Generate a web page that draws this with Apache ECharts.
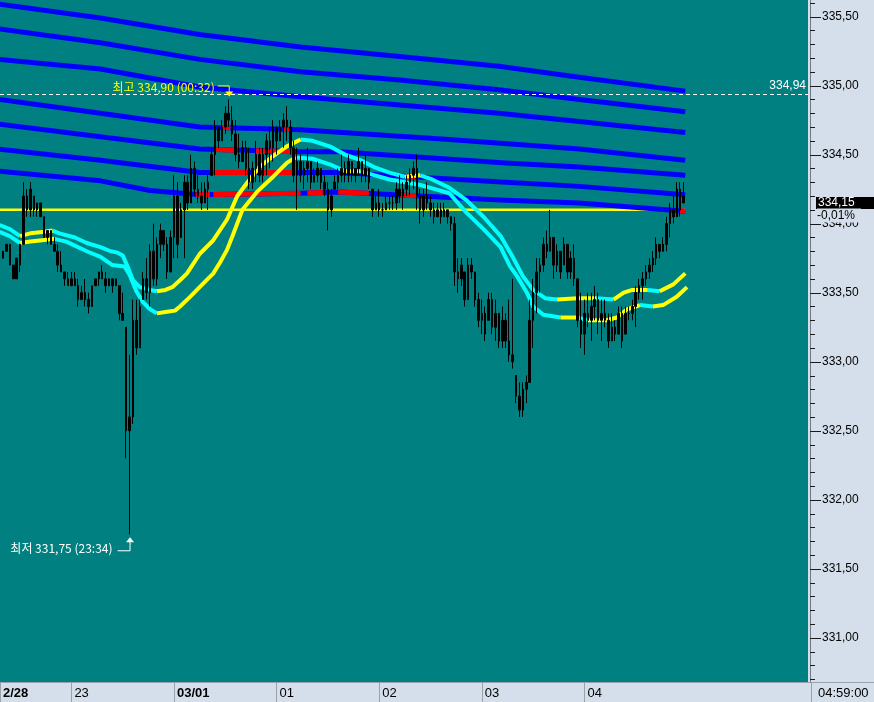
<!DOCTYPE html>
<html><head><meta charset="utf-8">
<script src="https://cdn.jsdelivr.net/npm/echarts@6/dist/echarts.min.js"></script>
<style>html,body{margin:0;padding:0;background:#d5dfeb;}#c{width:874px;height:702px;}</style>
</head><body><div id="c"></div>
<script>
// ---------- DATA (time = minutes from 03/01 00:00, price) ----------
const X_MIN = -101.75, X_MAX = 370.75;
const Y_MIN = 330.68, Y_MAX = 335.62;

const xTickValues = [-60, 0, 60, 120, 180, 240];
const xTickLabels = ['23', '03/01', '01', '02', '03', '04'];
const firstDateLabel = '2/28';
const yLabelValues = [331.0, 331.5, 332.0, 332.5, 333.0, 333.5, 334.0, 334.5, 335.0, 335.5];

// [time, open, close, low, high]
const bars = [
[-100,333.80,333.75,333.75,333.80],[-98,333.80,333.85,333.80,333.85],[-96,333.85,333.70,333.70,333.85],
[-94,333.70,333.60,333.60,333.70],[-92,333.60,333.75,333.60,333.75],[-90,333.70,333.85,333.65,333.85],
[-88,333.85,334.20,333.85,334.30],[-86,334.20,334.10,334.05,334.25],[-84,334.10,334.25,334.05,334.30],
[-82,334.20,334.10,334.05,334.20],[-80,334.10,334.15,334.05,334.15],[-78,334.15,334.05,334.05,334.15],
[-76,334.05,333.90,333.90,334.05],[-74,333.90,333.95,333.85,333.95],[-72,333.95,333.85,333.85,333.95],
[-70,333.85,333.80,333.80,333.90],[-68,333.80,333.70,333.65,333.85],[-66,333.70,333.65,333.65,333.80],
[-64,333.65,333.60,333.55,333.65],[-62,333.60,333.55,333.55,333.65],[-60,333.55,333.60,333.55,333.65],
[-58,333.60,333.55,333.55,333.65],[-56,333.55,333.45,333.40,333.60],[-54,333.45,333.50,333.45,333.55],
[-52,333.50,333.45,333.40,333.60],[-50,333.45,333.40,333.35,333.50],[-48,333.40,333.55,333.40,333.55],
[-46,333.55,333.60,333.55,333.60],[-44,333.60,333.65,333.55,333.65],[-42,333.65,333.60,333.60,333.70],
[-40,333.60,333.55,333.50,333.65],[-38,333.55,333.60,333.55,333.60],[-36,333.60,333.55,333.50,333.60],
[-34,333.55,333.60,333.55,333.60],[-32,333.55,333.35,333.30,333.55],[-30,333.35,333.30,333.30,333.50],
[-28,333.25,332.50,332.30,333.25],[-26,332.50,332.60,331.75,333.05],[-24,332.60,333.30,332.55,333.45],
[-22,333.30,333.10,333.05,333.45],[-20,333.10,333.40,333.10,333.45],[-18,333.45,333.60,333.45,333.65],
[-16,333.60,333.50,333.45,333.75],[-14,333.50,333.80,333.40,333.85],[-12,333.80,333.60,333.55,334.00],
[-10,333.60,333.85,333.55,333.90],[-8,333.85,333.95,333.75,334.00],[-6,333.95,333.85,333.80,333.95],
[-4,333.85,333.65,333.60,333.90],[-2,333.65,333.90,333.65,333.95],[0,333.90,334.20,333.75,334.35],
[2,334.20,333.85,333.75,334.30],[4,333.90,334.10,333.90,334.15],[6,334.10,334.30,333.75,334.35],
[8,334.30,334.15,334.10,334.35],[10,334.15,334.40,334.15,334.50],[12,334.40,334.25,334.20,334.45],
[14,334.25,334.20,334.15,334.35],[16,334.20,334.15,334.10,334.30],[18,334.15,334.25,334.15,334.30],
[20,334.25,334.30,334.10,334.35],[22,334.35,334.50,334.35,334.55],[24,334.50,334.70,334.35,334.75],
[26,334.70,334.60,334.55,334.70],[28,334.60,334.70,334.60,334.75],[30,334.70,334.80,334.65,334.85],
[32,334.80,334.75,334.70,334.90],[34,334.75,334.65,334.60,334.85],[36,334.65,334.50,334.45,334.75],
[38,334.50,334.45,334.40,334.65],[40,334.45,334.55,334.45,334.60],[42,334.55,334.40,334.35,334.60],
[44,334.40,334.30,334.25,334.55],[46,334.30,334.40,334.25,334.45],[48,334.40,334.50,334.30,334.60],
[50,334.50,334.35,334.30,334.55],[52,334.35,334.50,334.30,334.55],[54,334.50,334.60,334.35,334.65],
[56,334.60,334.55,334.40,334.70],[58,334.55,334.70,334.45,334.75],[60,334.70,334.60,334.50,334.70],
[62,334.60,334.70,334.60,334.75],[64,334.70,334.75,334.55,334.80],[66,334.75,334.70,334.60,334.85],
[68,334.70,334.55,334.50,334.75],[70,334.55,334.35,334.30,334.60],[72,334.35,334.45,334.10,334.55],
[74,334.45,334.35,334.30,334.50],[76,334.35,334.40,334.25,334.45],[78,334.40,334.45,334.30,334.55],
[80,334.45,334.30,334.25,334.45],[82,334.30,334.35,334.30,334.40],[84,334.35,334.40,334.30,334.45],
[86,334.40,334.30,334.25,334.40],[88,334.30,334.25,334.20,334.35],[90,334.25,334.10,333.95,334.30],
[92,334.10,334.20,334.05,334.25],[94,334.25,334.30,334.25,334.35],[96,334.30,334.35,334.25,334.40],
[98,334.35,334.40,334.30,334.50],[100,334.40,334.35,334.30,334.45],[102,334.35,334.45,334.30,334.50],
[104,334.45,334.35,334.30,334.45],[106,334.35,334.40,334.30,334.40],[108,334.40,334.45,334.35,334.55],
[110,334.45,334.35,334.30,334.45],[112,334.35,334.40,334.30,334.50],[114,334.40,334.30,334.25,334.40],
[116,334.25,334.10,334.05,334.25],[118,334.10,334.15,334.10,334.20],[120,334.15,334.10,334.05,334.25],
[122,334.10,334.10,334.05,334.15],[124,334.10,334.15,334.10,334.20],[126,334.15,334.15,334.10,334.20],
[128,334.15,334.15,334.10,334.20],[130,334.15,334.25,334.10,334.30],[132,334.25,334.20,334.15,334.35],
[134,334.20,334.25,334.10,334.30],[136,334.25,334.30,334.20,334.35],[138,334.30,334.35,334.20,334.40],
[140,334.35,334.40,334.25,334.45],[142,334.40,334.20,334.10,334.50],[144,334.20,334.10,334.00,334.25],
[146,334.10,334.20,334.05,334.25],[148,334.20,334.15,334.10,334.30],[150,334.15,334.10,334.05,334.20],
[152,334.10,334.05,334.00,334.15],[154,334.05,334.10,334.05,334.15],[156,334.10,334.05,334.00,334.15],
[158,334.05,334.10,334.05,334.15],[160,334.10,334.05,334.00,334.10],[162,334.05,334.00,333.95,334.05],
[164,334.00,333.65,333.55,334.05],[166,333.65,333.60,333.50,333.75],[168,333.60,333.70,333.55,333.75],
[170,333.65,333.45,333.40,333.65],[172,333.45,333.70,333.45,333.75],[174,333.70,333.65,333.60,333.75],
[176,333.65,333.45,333.40,333.65],[178,333.45,333.30,333.25,333.50],[180,333.30,333.35,333.20,333.45],
[182,333.35,333.20,333.15,333.40],[184,333.30,333.45,333.30,333.50],[186,333.45,333.25,333.20,333.50],
[188,333.25,333.35,333.15,333.45],[190,333.35,333.15,333.10,333.35],[192,333.15,333.30,333.10,333.40],
[194,333.30,333.15,333.10,333.35],[196,333.15,333.05,333.00,333.45],[198,333.05,333.00,332.95,333.60],
[200,332.90,332.75,332.70,332.90],[202,332.75,332.65,332.60,332.85],[204,332.65,332.80,332.60,332.85],
[206,332.80,332.85,332.70,332.90],[208,332.85,333.30,332.85,333.45],[210,333.30,333.50,333.10,333.60],
[212,333.50,333.65,333.35,333.75],[214,333.65,333.70,333.50,333.75],[216,333.70,333.85,333.65,333.90],
[218,333.85,333.80,333.75,333.95],[220,333.80,333.90,333.80,334.10],[222,333.90,333.70,333.60,333.90],
[224,333.70,333.80,333.65,333.85],[226,333.80,333.65,333.60,333.80],[228,333.70,333.85,333.70,333.90],
[230,333.85,333.65,333.60,333.85],[232,333.65,333.75,333.60,333.80],[234,333.75,333.60,333.55,333.85],
[236,333.60,333.30,333.25,333.60],[238,333.30,333.20,333.10,333.50],[240,333.20,333.35,333.05,333.45],
[242,333.35,333.30,333.25,333.50],[244,333.30,333.40,333.15,333.50],[246,333.40,333.45,333.30,333.55],
[248,333.45,333.30,333.20,333.50],[250,333.30,333.35,333.15,333.45],[252,333.35,333.30,333.25,333.45],
[254,333.30,333.15,333.10,333.35],[256,333.15,333.25,333.15,333.35],[258,333.25,333.20,333.15,333.30],
[260,333.20,333.35,333.20,333.40],[262,333.35,333.15,333.10,333.40],[264,333.20,333.35,333.20,333.40],
[266,333.35,333.35,333.30,333.40],[268,333.35,333.40,333.30,333.45],[270,333.40,333.50,333.25,333.55],
[272,333.50,333.55,333.45,333.60],[274,333.55,333.60,333.45,333.65],[276,333.60,333.65,333.55,333.70],
[278,333.65,333.70,333.60,333.75],[280,333.70,333.75,333.65,333.80],[282,333.75,333.85,333.70,333.90],
[284,333.85,333.80,333.75,333.85],[286,333.80,333.85,333.80,333.90],[288,333.85,334.00,333.80,334.05],
[290,334.00,334.10,333.90,334.15],[292,334.10,334.05,334.00,334.20],[294,334.05,334.25,334.05,334.30],
[296,334.25,334.10,334.05,334.30],[298,334.20,334.15,334.15,334.30]
];

// seven blue bands (top to bottom)
const band1 = [[-102,335.59],[-43,335.49],[15,335.37],[74,335.28],[132,335.21],[190,335.14],[237,335.06],[299,334.96]];
const band2 = [[-102,335.41],[-43,335.31],[15,335.19],[74,335.10],[132,335.04],[190,334.97],[237,334.90],[299,334.81]];
const band3 = [[-102,335.19],[-43,335.12],[15,334.99],[74,334.92],[132,334.86],[190,334.80],[237,334.74],[299,334.66]];
const band4 = [[-102,334.90],[-43,334.80],[15,334.70],[74,334.68],[161,334.61],[237,334.54],[299,334.46]];
const band5 = [[-102,334.72],[-43,334.63],[15,334.54],[74,334.52],[97,334.52],[194,334.44],[237,334.41],[299,334.35]];
const band6 = [[-102,334.54],[-43,334.46],[15,334.37],[74,334.37],[97,334.37],[194,334.30],[237,334.27],[299,334.21]];
const band7 = [[-102,334.38],[-43,334.31],[-14,334.24],[15,334.21],[74,334.22],[97,334.23],[194,334.17],[237,334.15],[299,334.09]];
// time spans where a band is drawn red
const redSpans4 = [[28,33],[64,68]];
const redSpans5 = [[24,37],[48,70]];
const redSpans6 = [[23,43],[52,72],[137,141]];
const redSpans7 = [[13,21],[23,74],[78,87],[96,114],[132,142],[296,299]];

// two moving-average curves
const upperMA = [[-102,333.99],[-96,333.96],[-90,333.91],[-84,333.93],[-77,333.94],[-71,333.95],[-67,333.93],[-58,333.90],[-51,333.86],[-43,333.83],[-37,333.80],[-33,333.79],[-30,333.77],[-27.5,333.70],[-24,333.59],[-20,333.54],[-14,333.52],[-10,333.51],[-5,333.52],[-1,333.54],[3.5,333.59],[7.6,333.64],[15,333.78],[23,333.88],[31,334.03],[37,334.20],[43,334.30],[50,334.41],[58,334.49],[66,334.56],[74,334.61],[81,334.60],[91,334.56],[100,334.50],[109,334.46],[117,334.41],[126,334.37],[135,334.34],[144,334.35],[151,334.32],[161,334.26],[171,334.17],[181,334.05],[191,333.91],[198,333.76],[204,333.62],[210,333.52],[217,333.46],[224,333.45],[236,333.46],[247,333.46],[257,333.45],[263,333.50],[268,333.52],[277,333.52],[284,333.51],[292,333.56],[299,333.64]];
const lowerMA = [[-102,333.94],[-96,333.91],[-90,333.86],[-84,333.87],[-77,333.88],[-70,333.89],[-63,333.87],[-51,333.80],[-43,333.76],[-36,333.70],[-29,333.69],[-26,333.63],[-22,333.51],[-18,333.43],[-14,333.38],[-10,333.35],[-5,333.36],[0.6,333.37],[3.5,333.40],[9.4,333.47],[15,333.54],[23,333.64],[27,333.72],[31,333.81],[34.5,333.92],[40,334.10],[48.5,334.23],[58,334.34],[66,334.44],[71,334.48],[81,334.47],[91,334.43],[100,334.38],[109,334.38],[117.5,334.35],[126,334.32],[135,334.30],[144,334.28],[152.6,334.25],[161,334.22],[171,334.08],[181,333.96],[191,333.83],[196.5,333.69],[200.6,333.62],[206.4,333.50],[210,333.40],[216,333.34],[226,333.32],[236,333.32],[241.5,333.30],[253,333.30],[259,333.32],[265,333.38],[272.5,333.41],[280,333.40],[286,333.41],[294,333.47],[300,333.54]];

const baseLevel = 334.10;            // yellow horizontal level
const baseLineSpan = [-102, 299];
const refLevel = 334.94;             // white dashed level
const refLabel = '334,94';
const highMark = {t: 32, p: 334.90, text: '최고 334,90 (00:32)'};
const lowMark = {t: -26, p: 331.75, text: '최저 331,75 (23:34)'};
const lastPrice = 334.15, lastPriceText = '334,15', changeText = '-0,01%', lastTimeText = '04:59:00';

// ---------- helpers ----------
const fmt = v => v.toFixed(2).replace('.', ',');
function interp(line, t) {
  for (let i = 0; i < line.length - 1; i++) {
    const a = line[i], b = line[i + 1];
    if (t >= a[0] && t <= b[0]) return a[1] + (b[1] - a[1]) * (t - a[0]) / (b[0] - a[0]);
  }
  return line[line.length - 1][1];
}
function redData(line, spans) {
  const out = [];
  spans.forEach(([t0, t1]) => {
    out.push([t0, interp(line, t0)]);
    line.forEach(p => { if (p[0] > t0 && p[0] < t1) out.push(p); });
    out.push([t1, interp(line, t1)]);
    out.push([t1, null]);
  });
  return out;
}
function splitTrend(pts) {
  const out = {up: [], down: []};
  let prev = null;
  for (let i = 0; i < pts.length - 1; i++) {
    const a = pts[i], b = pts[i + 1];
    const key = b[1] >= a[1] ? 'up' : 'down';
    if (key !== prev) { if (prev) out[prev].push([a[0], null]); out[key].push(a); }
    out[key].push(b);
    prev = key;
  }
  return out;
}
const yMinorTicks = [];
for (let k = 3307; k <= 3356; k++) yMinorTicks.push(k / 10);

const FONT = '"Liberation Sans", "Noto Sans CJK KR", sans-serif';
const lineS = (data, color, width, z) => ({
  type: 'line', data, symbol: 'none', z, silent: true, connectNulls: false,
  lineStyle: {color, width, cap: 'butt', join: 'round'}
});

const bands = [band1, band2, band3, band4, band5, band6, band7];
const series = [];
series.push(lineS([[baseLineSpan[0], baseLevel], [baseLineSpan[1], baseLevel]], '#ffff00', 2.5, 2));
bands.forEach(b => series.push(lineS(b, '#0000ff', 5, 3)));
[[band4, redSpans4], [band5, redSpans5], [band6, redSpans6], [band7, redSpans7]].forEach(([b, s]) =>
  series.push(lineS(redData(b, s), '#ff0000', 5, 4)));
[upperMA, lowerMA].forEach(ma => {
  const sp = splitTrend(ma);
  series.push(lineS(sp.down, '#00ffff', 4, 5));
  series.push(lineS(sp.up, '#ffff00', 4, 5));
});
series.push({
  type: 'candlestick', data: bars, encode: {x: 0, y: [1, 2, 3, 4]}, barWidth: 2, z: 10, silent: true,
  itemStyle: {color: '#000', color0: '#000', borderColor: '#000', borderColor0: '#000', borderWidth: 1},
  markLine: {
    silent: true, symbol: ['none', 'none'], animation: false,
    lineStyle: {color: '#ffffff', type: [4, 3], width: 1},
    label: {show: true, position: 'insideEndTop', formatter: refLabel, color: '#ffffff', fontSize: 12, fontFamily: FONT, distance: [2, 2]},
    data: [{yAxis: refLevel}]
  }
});

const chart = echarts.init(document.getElementById('c'), null, {renderer: 'canvas'});
chart.setOption({
  animation: false,
  backgroundColor: '#d5dfeb',
  grid: {left: 0, right: 66, top: 0, bottom: 20, show: true, backgroundColor: '#008080', borderWidth: 0},
  xAxis: {
    type: 'value', min: X_MIN, max: X_MAX,
    axisLine: {show: true, onZero: false, lineStyle: {color: '#9aa3ad', width: 1}},
    axisTick: {show: true, customValues: [X_MIN].concat(xTickValues), length: 20, lineStyle: {color: '#9aa3ad'}},
    axisLabel: {
      customValues: [X_MIN].concat(xTickValues), margin: 5, align: 'left', padding: [0, 0, 0, 3],
      formatter: v => {
        if (Math.abs(v - X_MIN) < 0.01) return '{b|' + firstDateLabel + '}';
        const i = xTickValues.findIndex(x => Math.abs(x - v) < 0.01);
        const s = i >= 0 ? xTickLabels[i] : '';
        return s.indexOf('/') >= 0 ? '{b|' + s + '}' : '{n|' + s + '}';
      },
      rich: {
        b: {fontFamily: '"Liberation Sans Narrow", "Liberation Sans", sans-serif', fontWeight: 'bold', fontSize: 13, color: '#000'},
        n: {fontFamily: '"Liberation Sans Narrow", "Liberation Sans", sans-serif', fontSize: 13, color: '#000'}
      }
    },
    splitLine: {show: false}
  },
  yAxis: {
    type: 'value', position: 'right', min: Y_MIN, max: Y_MAX, offset: 2, scale: true,
    axisLine: {show: true, onZero: false, lineStyle: {color: '#6f7a86', width: 1}},
    axisTick: {show: false},
    axisLabel: {customValues: yLabelValues, formatter: v => fmt(v), color: '#000', fontSize: 12, fontFamily: FONT, margin: 12},
    splitLine: {show: false}
  },
  series
});

// ---------- annotations positioned from data ----------
const px = (t, p) => chart.convertToPixel({xAxisIndex: 0, yAxisIndex: 0}, [t, p]);
const pH = px(highMark.t, highMark.p);
const pL = px(lowMark.t, lowMark.p);
const pC = px(0, lastPrice);
const gx = chart.convertToPixel({xAxisIndex: 0}, X_MAX);
const gy = chart.convertToPixel({yAxisIndex: 0}, Y_MIN);
const KFONT = '12px "Noto Sans CJK KR", "Liberation Sans", sans-serif';
// y-axis tick marks: short every 0.1, long at labelled values
const tickEls = yMinorTicks.map(v => {
  const y = Math.round(chart.convertToPixel({yAxisIndex: 0}, v));
  const major = yLabelValues.some(m => Math.abs(m - v) < 1e-6);
  return {type: 'rect', z: 120, silent: true, shape: {x: gx + 2, y: y, width: major ? 11 : 5, height: 1}, style: {fill: '#1a1a1a'}};
});
chart.setOption({
  graphic: tickEls.concat([
    {type: 'text', z: 100, style: {text: highMark.text, x: pH[0] - 14, y: pH[1] - 12, align: 'right', verticalAlign: 'middle', fill: '#ffff00', font: KFONT}},
    {type: 'polyline', z: 100, shape: {points: [[pH[0] - 11, pH[1] - 13.5], [pH[0] + 0.5, pH[1] - 13.5], [pH[0] + 0.5, pH[1] - 7]]}, style: {stroke: '#ffff00', lineWidth: 1, fill: null}},
    {type: 'polygon', z: 100, shape: {points: [[pH[0] - 3.5, pH[1] - 8], [pH[0] + 4.5, pH[1] - 8], [pH[0] + 0.5, pH[1] - 3]]}, style: {fill: '#ffff00'}},
    {type: 'text', z: 100, style: {text: lowMark.text, x: pL[0] - 17, y: pL[1] + 14, align: 'right', verticalAlign: 'middle', fill: '#ffffff', font: KFONT}},
    {type: 'polyline', z: 100, shape: {points: [[pL[0] - 12, pL[1] + 16.5], [pL[0] + 0.5, pL[1] + 16.5], [pL[0] + 0.5, pL[1] + 7]]}, style: {stroke: '#ffffff', lineWidth: 1, fill: null}},
    {type: 'polygon', z: 100, shape: {points: [[pL[0] - 3.5, pL[1] + 8], [pL[0] + 4.5, pL[1] + 8], [pL[0] + 0.5, pL[1] + 3]]}, style: {fill: '#ffffff'}},
    {type: 'rect', z: 130, shape: {x: gx + 8, y: pC[1] - 6, width: 874 - gx - 8, height: 12}, style: {fill: '#000'}},
    {type: 'text', z: 131, style: {text: lastPriceText, x: gx + 10, y: pC[1], verticalAlign: 'middle', fill: '#fff', font: '12px "Liberation Sans", sans-serif'}},
    {type: 'text', z: 131, style: {text: changeText, x: gx + 9, y: pC[1] + 12.5, verticalAlign: 'middle', fill: '#000', font: '12px "Liberation Sans", sans-serif', backgroundColor: '#d5dfeb', padding: [1, 6, 1, 0]}},
    {type: 'line', z: 100, shape: {x1: gx, y1: gy + 0.5, x2: 874, y2: gy + 0.5}, style: {stroke: '#9aa3ad', lineWidth: 1}},
    {type: 'line', z: 100, shape: {x1: gx + 3.5, y1: gy, x2: gx + 3.5, y2: 702}, style: {stroke: '#9aa3ad', lineWidth: 1}},
    {type: 'text', z: 100, style: {text: lastTimeText, x: gx + 10, y: gy + 11, verticalAlign: 'middle', fill: '#000', font: '13px "Liberation Sans Narrow", "Liberation Sans", sans-serif'}}
  ])
});
</script>
</body></html>
